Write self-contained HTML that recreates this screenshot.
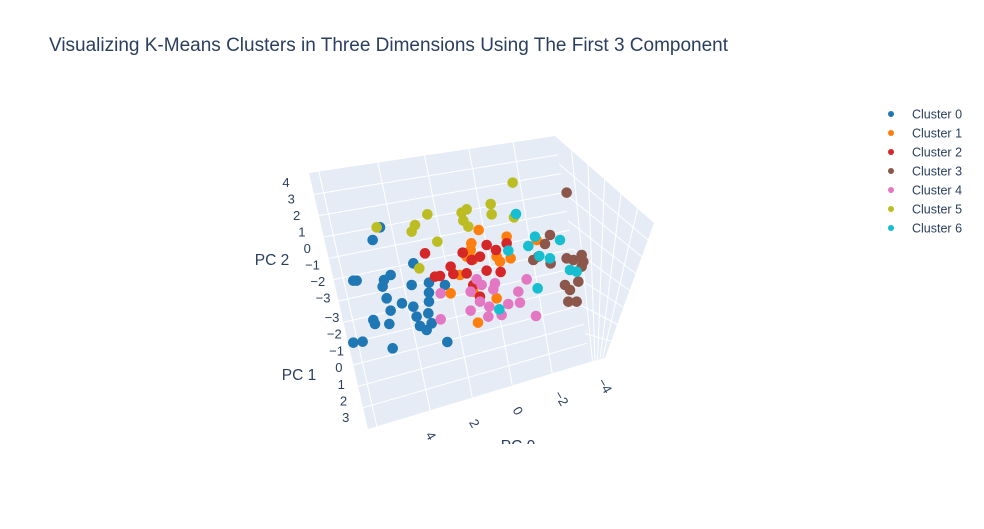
<!DOCTYPE html>
<html><head><meta charset="utf-8"><style>
body{margin:0;background:#fff;font-family:"Liberation Sans",Arial,sans-serif}
svg text{font-family:"Liberation Sans",Arial,sans-serif;fill:#2a3f5f}
</style></head><body>
<svg id="chart" width="984" height="524" xmlns="http://www.w3.org/2000/svg">
<rect width="984" height="524" fill="#fff"/>
<text x="49" y="51" font-size="19">Visualizing K-Means Clusters in Three Dimensions Using The First 3 Component</text>
<defs><clipPath id="sc"><rect x="0" y="0" width="860" height="444"/></clipPath></defs>
<g id="scene" clip-path="url(#sc)"></g>
<g id="legend"></g>
</svg>
<script>
// projected (view-space) coordinates of each point, per cluster
const clusterNames = ["Cluster 0","Cluster 1","Cluster 2","Cluster 3","Cluster 4","Cluster 5","Cluster 6"];
const colors = ["#1f77b4","#ff7f0e","#d62728","#8c564b","#e377c2","#bcbd22","#17becf"];
const c0u=[420,398,340,350,452,432,428,440,452,486,520,515,520,567,567,567,565,530,540,560,575,615,400,405,448,340,368,458,622];
const c0v=[322,360,482,482,465,480,500,535,572,550,560,495,430,488,518,545,580,590,618,630,610,495,600,612,612,668,665,685,666];
const c1u=[716,800,694,692,680,700,770,780,812,660,632,700,770,714,890];
const c1v=[330,350,370,390,410,418,410,425,415,465,520,515,535,608,360];
const c2u=[555,668,740,768,800,720,695,632,640,680,740,782,585,600,700,720];
const c2v=[400,398,375,390,370,410,420,440,462,460,452,456,470,468,495,530];
const c3u=[980,930,915,880,932,980,1000,1025,1030,1025,1015,975,990,985,1010,895];
const c3v=[218,345,372,420,430,415,420,405,425,440,485,495,510,545,545,410];
const c4u=[710,725,765,760,602,692,720,692,748,745,785,805,840,835,860,888,602];
const c4v=[478,495,490,508,520,515,545,572,560,590,585,552,548,515,478,588,598];
const c5u=[818,752,755,680,665,670,685,562,525,515,410,592,822,538];
const c5v=[188,252,283,268,278,302,320,283,315,335,322,365,292,445];
const c6u=[828,885,865,898,805,960,930,990,1010,893,778];
const c6v=[282,350,378,408,392,360,415,450,455,505,568];
const clusterU=[c0u,c1u,c2u,c3u,c4u,c5u,c6u];
const clusterV=[c0v,c1v,c2v,c3v,c4v,c5v,c6v];
const pc2Ticks=["4","3","2","1","0","−1","−2","−3"];
const pc1Ticks=["−3","−2","−1","0","1","2","3"];
const pc0Ticks=["4","2","0","−2","−4"];

const NS="http://www.w3.org/2000/svg";
const sx=u=>u/3+240, sy=v=>v/3+120;
const scene=document.getElementById('scene');
function mk(tag,attrs,parent){const e=document.createElementNS(NS,tag);for(const k in attrs)e.setAttribute(k,attrs[k]);(parent||scene).appendChild(e);return e;}
const lerp=(p,q,t)=>[p[0]+(q[0]-p[0])*t,p[1]+(q[1]-p[1])*t];
const A=[309,173],B=[555,136],C=[654,223],D=[605,358],H=[590,362],E=[368,429];
let w=mk('polygon',{points:[A,B,H,E].map(p=>p.join(',')).join(' '),fill:'#e5ecf6'});


w=mk('polygon',{points:[B,C,D,H].map(p=>p.join(',')).join(' '),fill:'#e5ecf6'});


function gl(p,q){const l=mk('line',{x1:p[0],y1:p[1],x2:q[0],y2:q[1],stroke:'#fff','stroke-width':1});

}
for(let i=1;i<12;i++){const t=i/12;gl(lerp(A,E,t),lerp(B,H,t));}
[0.04,0.28,0.47,0.65,0.83].forEach(t=>gl(lerp(A,B,t),lerp(E,H,t)));
for(let i=1;i<8;i++){const t=i/8;gl(lerp(B,H,t),lerp(C,D,t));}
for(let i=1;i<6;i++){const t=i/6;gl(lerp(B,C,t),lerp(H,D,t));}
// points
clusterU.forEach((us,k)=>{us.forEach((u,i)=>{
 const c=mk('circle',{cx:sx(u),cy:sy(clusterV[k][i]),r:5.3,fill:colors[k]});
 
 
});});
// tick labels
function tx(x,y,s,size,rot,name){const t=mk('text',{x:x,y:y,'font-size':size,'text-anchor':'middle'});t.textContent=s;
 if(rot)t.setAttribute('transform',`rotate(${rot} ${x} ${y})`);
 
 }
pc2Ticks.forEach((s,i)=>tx(286+i*5.3,187+i*16.5,s,13,0,'pc2-tick'));
pc1Ticks.forEach((s,i)=>tx(332+i*2.3,322+i*16.7,s,13,0,'pc1-tick'));
pc0Ticks.forEach((s,i)=>tx(427+i*43.5,438-i*12.5,s,13,60,'pc0-tick'));
tx(272,265,'PC 2',15.5,0,'pc2-title');
tx(299,380,'PC 1',15.5,0,'pc1-title');
tx(518,451,'PC 0',15.5,0,'pc0-title');
// legend
const lg=document.getElementById('legend');
clusterNames.forEach((n,k)=>{
 const y=114+k*19;
 const c=mk('circle',{cx:891,cy:y,r:3,fill:colors[k]},lg);
 
 
 const t=mk('text',{x:912,y:y+4.5,'font-size':12.5},lg);t.textContent=n;
 
 
});
</script>
</body></html>
